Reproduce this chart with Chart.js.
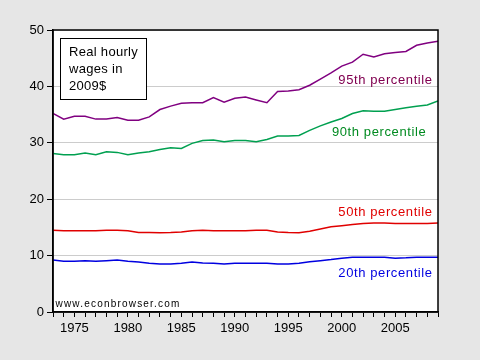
<!DOCTYPE html>
<html><head><meta charset="utf-8">
<script src="https://cdn.jsdelivr.net/npm/chart.js@4"></script>
<style>html,body{margin:0;padding:0;background:#e6e6e6}#wrap{width:480px;height:360px}</style>
</head><body><div id="wrap"><canvas id="c" width="480" height="360"></canvas></div>
<script>
const years = [1973,1974,1975,1976,1977,1978,1979,1980,1981,1982,1983,1984,1985,1986,1987,1988,1989,1990,1991,1992,1993,1994,1995,1996,1997,1998,1999,2000,2001,2002,2003,2004,2005,2006,2007,2008,2009];
const p95 = [35.2,34.2,34.7,34.7,34.2,34.2,34.5,34.0,34.0,34.6,35.9,36.5,37.0,37.1,37.1,38.0,37.2,37.9,38.1,37.6,37.1,39.1,39.2,39.4,40.2,41.3,42.4,43.6,44.3,45.7,45.2,45.8,46.0,46.2,47.3,47.7,48.0];
const p90 = [28.1,27.9,27.9,28.2,27.9,28.4,28.3,27.9,28.2,28.4,28.8,29.1,29.0,29.9,30.4,30.5,30.2,30.4,30.4,30.2,30.6,31.2,31.2,31.3,32.2,33.0,33.7,34.3,35.2,35.7,35.6,35.6,35.9,36.2,36.5,36.7,37.4];
const p50 = [14.5,14.4,14.4,14.4,14.4,14.5,14.5,14.4,14.1,14.1,14.05,14.1,14.2,14.4,14.5,14.4,14.4,14.4,14.4,14.5,14.5,14.2,14.1,14.05,14.3,14.7,15.1,15.3,15.5,15.7,15.8,15.8,15.7,15.7,15.7,15.7,15.8];
const p20 = [9.2,9.0,9.0,9.1,9.0,9.1,9.2,9.0,8.85,8.65,8.5,8.5,8.65,8.85,8.7,8.65,8.5,8.65,8.65,8.65,8.65,8.5,8.5,8.65,8.9,9.1,9.3,9.55,9.7,9.7,9.7,9.7,9.55,9.6,9.7,9.7,9.7];
const seriesNames = ["95th percentile","90th percentile","50th percentile","20th percentile"];
const yTicks = [0,10,20,30,40,50];
const boxLines = ["Real hourly","wages in","2009$"];
const sourceText = "www.econbrowser.com";

const FONT = "'Liberation Sans', Arial, sans-serif";
const pts = arr => years.map((y,i)=>({x:y,y:arr[i]}));
const mk = (label, arr, color) => ({label, data: pts(arr), borderColor: color, borderWidth: 1.5, pointRadius: 0, tension: 0, fill: false});

const labelSpecs = [
  {text: seriesNames[0], x: 2008.5, y: 41.1, color: '#800050'},
  {text: seriesNames[1], x: 2007.9, y: 31.8, color: '#008a20'},
  {text: seriesNames[2], x: 2008.5, y: 17.7, color: '#e00000'},
  {text: seriesNames[3], x: 2008.5, y: 6.8, color: '#0000e0'}
];

const deco = {
  id: 'deco',
  beforeDraw(chart) {
    const {ctx, chartArea: a} = chart;
    ctx.save();
    ctx.fillStyle = '#e6e6e6';
    ctx.fillRect(0,0,chart.width,chart.height);
    ctx.fillStyle = '#ffffff';
    ctx.fillRect(a.left,a.top,a.right-a.left,a.bottom-a.top);
    ctx.restore();
  },
  afterDraw(chart) {
    const {ctx, chartArea: a, scales} = chart;
    ctx.save();
    ctx.strokeStyle = '#000'; ctx.lineWidth = 1.5;
    ctx.strokeRect(a.left, a.top, a.right-a.left, a.bottom-a.top);
    ctx.font = '13px ' + FONT;
    ctx.textAlign = 'right'; ctx.textBaseline = 'middle';
    try { ctx.letterSpacing = '0.6px'; } catch(e) {}
    labelSpecs.forEach(s => {
      ctx.fillStyle = s.color;
      ctx.fillText(s.text, scales.x.getPixelForValue(s.x), scales.y.getPixelForValue(s.y));
    });
    const bx = a.left + 7.5, by = a.top + 8.5, bw = 86, bh = 61;
    ctx.fillStyle = '#fff'; ctx.fillRect(bx,by,bw,bh);
    ctx.strokeStyle = '#000'; ctx.lineWidth = 1; ctx.strokeRect(bx,by,bw,bh);
    ctx.fillStyle = '#000'; ctx.textAlign = 'left';
    try { ctx.letterSpacing = '0.3px'; } catch(e) {}
    boxLines.forEach((t,i) => ctx.fillText(t, bx + 8.5, by + 14 + i*17));
    ctx.font = '10px ' + FONT;
    try { ctx.letterSpacing = '1.2px'; } catch(e) {}
    ctx.fillText(sourceText, a.left + 2.5, a.bottom - 8);
    ctx.restore();
  }
};

new Chart(document.getElementById('c'), {
  type: 'line',
  data: { datasets: [ mk(seriesNames[0], p95, '#800080'), mk(seriesNames[1], p90, '#00a050'), mk(seriesNames[2], p50, '#e00000'), mk(seriesNames[3], p20, '#0000e0') ] },
  options: {
    responsive: false, animation: false, events: [],
    layout: { padding: { left: 0, top: 30, right: 42, bottom: 0 } },
    plugins: { legend: { display: false }, tooltip: { enabled: false } },
    scales: {
      x: {
        type: 'linear', min: 1973, max: 2009,
        afterFit(s) { s.height = 48; },
        afterBuildTicks(s) { s.ticks = years.map(v => ({value: v})); },
        ticks: { autoSkip: false, maxRotation: 0, color: '#000', font: { family: FONT, size: 13 }, padding: 4,
          callback: v => (v % 5 === 0 ? String(v) : '') },
        grid: { display: true, drawOnChartArea: false, tickLength: 5, tickColor: '#000', color: '#000' },
        border: { color: '#000', width: 1.5 }
      },
      y: {
        min: 0, max: 50,
        afterFit(s) { s.width = 53; },
        afterBuildTicks(s) { s.ticks = yTicks.map(v => ({value: v})); },
        ticks: { color: '#000', font: { family: FONT, size: 13 }, padding: 3 },
        grid: { color: '#cccccc', tickColor: '#000', tickLength: 6, lineWidth: 1 },
        border: { color: '#000', width: 1.5 }
      }
    }
  },
  plugins: [deco]
});
</script>
</body></html>
